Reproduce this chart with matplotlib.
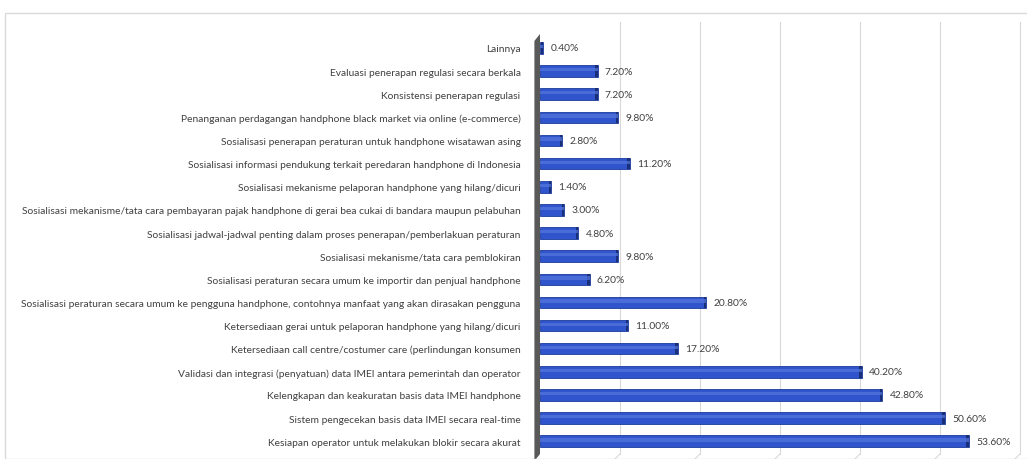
import numpy as np
import matplotlib
matplotlib.use("Agg")
import matplotlib.pyplot as plt
from matplotlib.patches import Rectangle, Polygon

categories = [
    "Lainnya",
    "Evaluasi penerapan regulasi secara berkala",
    "Konsistensi penerapan regulasi",
    "Penanganan perdagangan handphone black market via online (e-commerce)",
    "Sosialisasi penerapan peraturan untuk handphone wisatawan asing",
    "Sosialisasi informasi pendukung terkait peredaran handphone di Indonesia",
    "Sosialisasi mekanisme pelaporan handphone yang hilang/dicuri",
    "Sosialisasi mekanisme/tata cara pembayaran pajak handphone di gerai bea cukai di bandara maupun pelabuhan",
    "Sosialisasi jadwal-jadwal penting dalam proses penerapan/pemberlakuan peraturan",
    "Sosialisasi mekanisme/tata cara pemblokiran",
    "Sosialisasi peraturan secara umum ke importir dan penjual handphone",
    "Sosialisasi peraturan secara umum ke pengguna handphone, contohnya manfaat yang akan dirasakan pengguna",
    "Ketersediaan gerai untuk pelaporan handphone yang hilang/dicuri",
    "Ketersediaan call centre/costumer care (perlindungan konsumen",
    "Validasi dan integrasi (penyatuan) data IMEI antara pemerintah dan operator",
    "Kelengkapan dan keakuratan basis data IMEI handphone",
    "Sistem pengecekan basis data IMEI secara real-time",
    "Kesiapan operator untuk melakukan blokir secara akurat",
]
values = [0.4, 7.2, 7.2, 9.8, 2.8, 11.2, 1.4, 3.0, 4.8, 9.8, 6.2, 20.8,
          11.0, 17.2, 40.2, 42.8, 50.6, 53.6]
grid_ticks = [10, 20, 30, 40, 50, 60]

plt.rcParams["font.family"] = ["Lato", "DejaVu Sans"]

W, H = 1027, 460
fig = plt.figure(figsize=(W / 100, H / 100), dpi=100)
fig.patches.append(Rectangle((5 / W, 0), 1.2, 1 - 14 / H, transform=fig.transFigure,
                             fill=False, edgecolor="#d9d9d9", linewidth=1.0))

ax = fig.add_axes([540 / W, 5 / H, 480 / W, 420 / H])
y = np.arange(len(categories))
n = len(categories)

for g in grid_ticks:
    ax.plot([g, g], [n - 0.45, -1.1], color="#d9d9d9", linewidth=0.8,
            zorder=0, clip_on=False)
    ax.plot([g - 1.2, g], [n - 0.45 + 0.4, n - 0.45], color="#d9d9d9",
            linewidth=0.8, clip_on=False)

ax.barh(y, values, height=0.5, color="#2f54cc", edgecolor="#1c3a9a",
        linewidth=0.6, zorder=3)
# darker end cap to imitate the 3D look
ax.barh(y, [0.3] * n, left=np.array(values) - 0.3, height=0.5,
        color="#1a2f7a", linewidth=0, zorder=4)
# soft highlight across the middle of each bar
ax.barh(y - 0.06, values, height=0.14, color="#5577dd", alpha=0.7,
        linewidth=0, zorder=4)

for yi, v in zip(y, values):
    ax.text(v + 0.9, yi, f"{v:.2f}%", va="center", ha="left", fontsize=7.4,
            color="#404040")

# grey 3D wall on the left
ax.add_patch(Polygon([(-0.7, -0.3), (0, -0.6), (0, n - 0.45), (-0.7, n - 0.15)],
                     closed=True, facecolor="#595959", edgecolor="none",
                     clip_on=False, zorder=2))

ax.set_xlim(0, 60)
ax.set_ylim(n - 0.45, -0.6)
ax.set_yticks(y)
ax.set_yticklabels(categories, fontsize=7.4, color="#404040")
ax.tick_params(axis="y", length=0, pad=14)
ax.set_xticks([])
for s in ax.spines.values():
    s.set_visible(False)

fig.savefig("out.png", dpi=100)
